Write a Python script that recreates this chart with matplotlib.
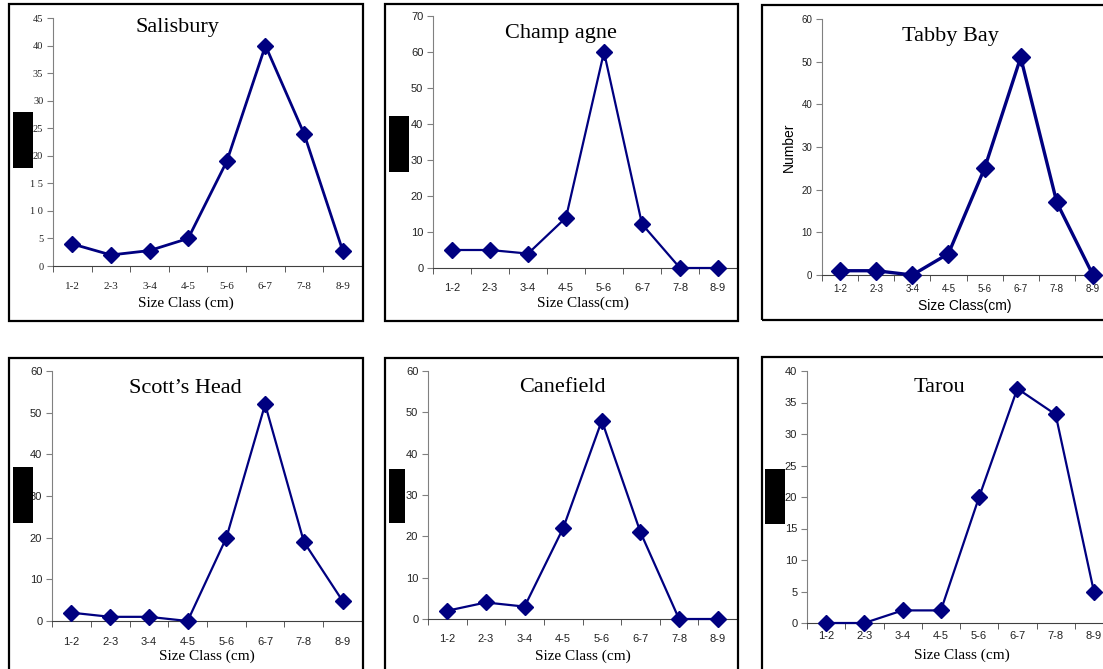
import matplotlib
matplotlib.use("Agg")
import matplotlib.pyplot as plt
from matplotlib.patches import Rectangle
import numpy as np

classes = ["1-2", "2-3", "3-4", "4-5", "5-6", "6-7", "7-8", "8-9"]

salisbury = [4, 2, 2.8, 5, 19, 40, 24, 2.8]
champagne = [5, 5, 4, 14, 60, 12.2, 0, 0]
tabby_bay = [1, 1, 0, 5, 25, 51, 17, 0]
scotts_head = [2, 1, 1, 0, 20, 52, 19, 4.8]
canefield = [2, 4, 3, 22, 48, 21, 0, 0]
tarou = [0, 0, 2, 2, 20, 37.2, 33.1, 5]

W, H = 1103, 669
fig = plt.figure(figsize=(W / 100, H / 100), dpi=100)

serif = "Liberation Serif"
sans = "Liberation Sans"
navy = "#000080"


def px_axes(x0, y0, x1, y1):
    # pixel box (left, top, right, bottom) -> figure fraction
    return fig.add_axes([x0 / W, 1 - y1 / H, (x1 - x0) / W, (y1 - y0) / H])


def ftext(x, y, s, **kw):
    fig.text(x / W, 1 - y / H, s, **kw)


def frame(x0, y0, x1, y1):
    fig.patches.append(Rectangle((x0 / W, 1 - y1 / H), (x1 - x0) / W, (y1 - y0) / H,
                                 transform=fig.transFigure, fill=False,
                                 edgecolor="black", linewidth=1.6, zorder=0))


def blackbox(x0, y0, x1, y1):
    fig.patches.append(Rectangle((x0 / W, 1 - y1 / H), (x1 - x0) / W, (y1 - y0) / H,
                                 transform=fig.transFigure, facecolor="black",
                                 edgecolor="none", zorder=10))


def panel(box, vals, ymax, ystep, tickfont, fs, xpad, xfs=None, tick_fmt=None, ms=8.5, lw=1.6):
    ax = px_axes(*box)
    x = np.arange(len(vals)) + 0.5
    ax.plot(x, vals, color=navy, marker="D", markersize=ms, linewidth=lw, clip_on=False, zorder=5)
    ax.set_xlim(0, 8)
    ax.set_ylim(0, ymax)
    for s in ["top", "right"]:
        ax.spines[s].set_visible(False)
    ax.spines["left"].set_color("#808080")
    ax.spines["bottom"].set_color("#404040")
    yt = np.arange(0, ymax + 0.01, ystep)
    ax.set_yticks(yt)
    if tick_fmt:
        ax.set_yticklabels([tick_fmt(v) for v in yt])
    ax.set_xticks(x)
    ax.set_xticklabels(classes)
    ax.set_xticks(np.arange(0, 9), minor=True)
    ax.tick_params(axis="x", which="major", length=0, pad=xpad)
    ax.tick_params(axis="x", which="minor", length=4, direction="out", color="#404040")
    ax.tick_params(axis="y", length=4, direction="out", color="#808080", pad=3)
    for lab in ax.get_yticklabels():
        lab.set_fontfamily(tickfont)
        lab.set_fontsize(fs)
        lab.set_color("#222222")
    for lab in ax.get_xticklabels():
        lab.set_fontfamily(tickfont)
        lab.set_fontsize(xfs or fs)
        lab.set_color("#222222")
    ax.patch.set_alpha(0)
    return ax


# frames
frame(9, 4, 363, 321)
frame(385, 4, 738, 321)
frame(762, 5, 1110, 320)
frame(9, 358, 363, 675)
frame(385, 358, 738, 675)
frame(762, 357, 1110, 675)

spaced = lambda v: " ".join(str(int(v))) if 10 <= v < 20 else str(int(v))

panel((53, 18, 362, 266), salisbury, 45, 5, serif, 7.5, 11.5, xfs=8, tick_fmt=spaced, lw=2.0)
panel((433, 16, 737, 268), champagne, 70, 10, sans, 8, 11)
panel((822, 19, 1111, 275), tabby_bay, 60, 10, sans, 7, 6.5, ms=9, lw=2.4)
panel((52, 371, 362, 621), scotts_head, 60, 10, sans, 8, 11.5)
panel((428, 371, 737, 619), canefield, 60, 10, sans, 8, 10.5)
panel((807, 371, 1113, 623), tarou, 40, 5, sans, 8, 5.5)

# titles (Times-like serif)
tkw = dict(fontfamily=serif, fontsize=16, ha="center", va="baseline")
ftext(177, 32, "Salisbury", **tkw)
ftext(561, 38, "Champ agne", **tkw)
ftext(950, 41, "Tabby Bay", **tkw)
ftext(185, 393, "Scott\u2019s Head", **tkw)
ftext(562, 392, "Canefield", **tkw)
ftext(939, 392, "Tarou", **tkw)

# axis titles
xkw = dict(fontfamily=serif, fontsize=11, ha="center", va="center")
ftext(186, 303, "Size Class (cm)", **xkw)
ftext(583, 303, "Size Class(cm)", **xkw)
ftext(965, 306, "Size Class(cm)", fontfamily=sans, fontsize=10, ha="center", va="center")
ftext(207, 656, "Size Class (cm)", **xkw)
ftext(583, 656, "Size Class (cm)", **xkw)
ftext(962, 655, "Size Class (cm)", **xkw)
ftext(789, 147, "Number", fontfamily=sans, fontsize=10, ha="center", va="center", rotation=90)

# redaction boxes over y labels
blackbox(13, 112, 33, 168)
blackbox(389, 116, 409, 172)
blackbox(13, 467, 33, 523)
blackbox(389, 469, 405, 523)
blackbox(765, 469, 785, 524)

fig.savefig("out.png", dpi=100)
